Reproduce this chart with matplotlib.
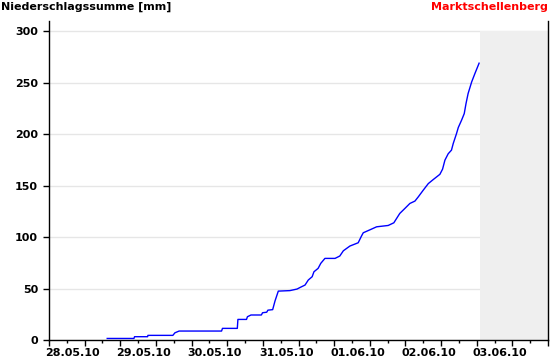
import pandas as pd
import matplotlib
matplotlib.use('Agg')
import matplotlib.pyplot as plt
import matplotlib.dates as mdates
import matplotlib.transforms as mtransforms
from matplotlib.ticker import FuncFormatter, MultipleLocator

# Stunden seit 28.05.10 00:00 und Niederschlagssumme in mm
hours = [19.6, 28.6, 28.8, 33.2, 33.3, 41.7, 42.4, 43.8, 58.1, 58.4,
         63.4, 63.6, 66.5, 66.8, 68.0, 71.5, 71.9, 73.3, 73.7, 75.3,
         76.1, 77.2, 81.1, 83.5, 84.5, 86.2, 87.3, 88.6, 89.2, 90.6,
         91.5, 92.9, 96.3, 97.9, 99.1, 101.3, 104.1, 105.2, 105.8, 108.3,
         110.3, 114.2, 116.1, 117.0, 118.1, 119.8, 121.5, 123.2, 124.3, 126.0,
         127.7, 129.4, 131.6, 132.5, 133.3, 134.4, 135.5, 136.1, 137.2, 137.8,
         138.9, 139.8, 140.4, 141.1, 142.3, 143.4, 144.8]
summe = [1.5, 1.5, 3.2, 3.2, 4.5, 4.5, 7.0, 8.7, 8.7, 11.3,
         11.3, 20.0, 20.0, 22.6, 24.3, 24.3, 26.5, 27.0, 29.0, 29.5,
         38.0, 47.5, 48.0, 49.5, 51.0, 53.4, 58.3, 61.5, 66.3, 69.6,
         74.5, 79.3, 79.3, 81.6, 86.7, 91.3, 94.5, 101.0, 104.2, 107.4,
         110.0, 111.3, 113.9, 118.0, 123.0, 127.8, 132.7, 135.0, 139.0, 145.6,
         152.0, 156.0, 161.0, 166.0, 174.8, 181.0, 184.5, 191.0, 200.6, 206.5,
         213.6, 220.0, 229.8, 239.5, 250.8, 259.0, 269.0]

start = pd.Timestamp('2010-05-28 00:00')
ende = pd.Timestamp('2010-06-04 00:00')
zukunft = start + pd.Timedelta(hours=145.1)
zeit = [start + pd.Timedelta(hours=h) for h in hours]


def datum(v, pos):
    d = mdates.num2date(v)
    # nur Mitternacht beschriften, den rechten Rand nicht
    if d.hour != 0 or v >= mdates.date2num(ende):
        return ''
    return d.strftime('%d.%m.%y')


fig = plt.figure(figsize=(5.5, 3.6), dpi=100)
ax = fig.add_axes([49 / 550, 20 / 360, 499 / 550, 319 / 360])

ax.fill_between([zukunft, ende], 0, 300, color='#efefef', lw=0, zorder=1)
ax.plot(zeit, summe, color='#0000ff', lw=1.0, zorder=3)

ax.set_xlim(start, ende)
ax.set_ylim(0, 310)
ax.yaxis.set_major_locator(MultipleLocator(50))
ax.set_axisbelow(True)
ax.grid(axis='y', color='#e6e6e6', lw=1)

ax.xaxis.set_major_locator(mdates.HourLocator(byhour=[0, 12]))
ax.xaxis.set_minor_locator(mdates.HourLocator(byhour=[6, 18]))
ax.xaxis.set_major_formatter(FuncFormatter(datum))

ax.spines['top'].set_visible(False)
for s in ['left', 'bottom', 'right']:
    ax.spines[s].set_color('black')
    ax.spines[s].set_linewidth(1)

ax.tick_params(axis='x', which='major', length=4.3, width=1, pad=1.5, labelsize=8)
ax.tick_params(axis='x', which='minor', length=2.2, width=1)
ax.tick_params(axis='y', length=4.3, width=1, pad=3.5, labelsize=8)
ax.tick_params(axis='y', which='both', right=False)

versatz = mtransforms.ScaledTranslation(-4 / 100, 0, fig.dpi_scale_trans)
for lab in ax.get_xticklabels():
    lab.set_fontweight('bold')
    lab.set_horizontalalignment('left')
    lab.set_transform(lab.get_transform() + versatz)
for lab in ax.get_yticklabels():
    lab.set_fontweight('bold')

fig.text(1 / 550, 1 - 2 / 360, 'Niederschlagssumme [mm]', ha='left', va='top',
         fontsize=8, fontweight='bold', color='black')
fig.text(548 / 550, 1 - 2 / 360, 'Marktschellenberg', ha='right', va='top',
         fontsize=8, fontweight='bold', color='#ff0000')

fig.savefig('out.png', dpi=100)
